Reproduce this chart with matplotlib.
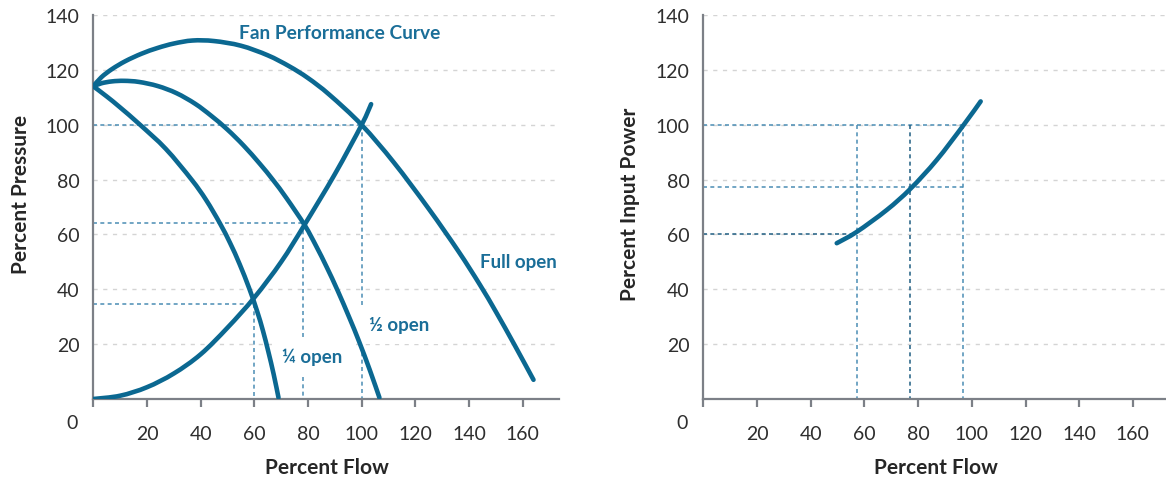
import matplotlib
matplotlib.use("Agg")
import matplotlib.pyplot as plt
import numpy as np
from matplotlib.path import Path
from matplotlib.patches import PathPatch

plt.rcParams['font.family'] = ['Lato', 'DejaVu Sans']

# ---- Fan pressure curves (percent flow vs percent pressure) ----
full_open_x = [0, 3, 7, 12, 18, 24, 30, 37, 45, 55, 65, 73, 80, 88, 100, 112, 125, 136, 144, 150, 157, 164]
full_open_y = [114, 117.3, 120.3, 123.2, 125.9, 128, 129.6, 130.7, 130.5, 128.8, 125.3, 121.3, 117, 110.9,
               99.9, 86.2, 69.3, 53.9, 41.7, 31.8, 19.6, 7.0]

half_open_x = [0, 3, 7, 11.5, 17, 24, 31, 38, 44, 50, 56, 62, 67, 72, 78.8, 83, 87, 91, 95.5, 99, 103, 106.6]
half_open_y = [114, 115.1, 115.8, 116, 115.6, 114.1, 111.5, 107.6, 103.2, 98.2, 92.4, 85.8, 79.8, 73.2,
               63.3, 55.8, 48, 39.6, 29.4, 21, 10.6, 0.5]

quarter_open_x = [0, 5, 10, 17.4, 27, 36.6, 42, 47.2, 51, 54.5, 58.1, 61, 63.2, 65.2, 67.2, 69]
quarter_open_y = [114, 110.3, 106.3, 100, 91.2, 80, 72.6, 64, 56.8, 49.2, 40.3, 32.1, 24.9, 17.3, 9, 0.5]

system_x = [0, 10, 20, 30, 40, 50, 60, 70, 78.5, 90, 100, 103.5]
system_y = [0, 1.2, 4.3, 9.3, 16.3, 26, 37, 50, 63.2, 82, 100, 107.5]

# operating points: (flow, pressure) for full, 1/2 and 1/4 open
op_flow = [100, 78, 60]
op_pressure = [100, 64, 34.5]

# ---- Input power curve ----
power_x = [49.7, 57.1, 68.3, 77.1, 86.9, 96.8, 103.3]
power_y = [56.8, 60.9, 68.9, 76.6, 87.1, 99.7, 108.5]
power_flow_marks = [57.1, 77.1, 96.8]
power_levels = [100, 77.3, 60]

y_ticks = [20, 40, 60, 80, 100, 120, 140]
x_ticks = [0, 20, 40, 60, 80, 100, 120, 140, 160]
x_ticklabels = ['', '20', '40', '60', '80', '100', '120', '140', '160']

CURVE = '#0b6891'
TEXT_BLUE = '#1a6e98'
REF = '#4a8db4'
REF_DARK = '#1f5e82'
GRID = '#d4d4d4'
SPINE = '#7c8087'
TICKTXT = '#2e2e2e'

W, H = 1166, 485
fig = plt.figure(figsize=(W / 100, H / 100), dpi=100)

ax1 = fig.add_axes([93.3 / W, 85 / H, (559 - 93.3) / W, 384 / H])
ax2 = fig.add_axes([703.3 / W, 85 / H, (W - 703.3) / W, 384 / H])


def style_axes(ax, xmax, ylabel):
    ax.set_xlim(0, xmax)
    ax.set_ylim(0, 140)
    for s in ('top', 'right'):
        ax.spines[s].set_visible(False)
    for s in ('left', 'bottom'):
        ax.spines[s].set_color(SPINE)
        ax.spines[s].set_linewidth(1.6)
    ax.set_yticks(y_ticks)
    ax.set_yticklabels([str(v) for v in y_ticks])
    ax.set_xticks(x_ticks)
    ax.set_xticklabels(x_ticklabels)
    ax.tick_params(axis='y', length=0, pad=10, labelsize=14, labelcolor=TICKTXT)
    ax.tick_params(axis='x', length=6, width=1.6, color=SPINE, direction='out',
                   pad=13, labelsize=14, labelcolor=TICKTXT)
    for v in y_ticks:
        ax.axhline(v, color=GRID, lw=1.0, ls=(0, (3, 4)), zorder=0)
    ax.text(-0.045, -0.06, '0', transform=ax.transAxes, fontsize=14,
            color=TICKTXT, ha='center', va='center')
    ax.set_xlabel('Percent Flow', fontsize=15, fontweight='bold', color='#262626')
    ax.xaxis.set_label_coords(0.502, -0.151)
    ax.set_ylabel(ylabel, fontsize=15, fontweight='bold', color='#262626')


def ref_line(ax, xs, ys, color=REF):
    ax.plot(xs, ys, color=color, lw=1.1, ls=(0, (2.6, 2.2)), zorder=1)


def curve(ax, xs, ys):
    # smooth cubic path (Catmull-Rom style) through the given points
    pts = np.column_stack([xs, ys]).astype(float)
    n = len(pts)
    verts = [pts[0]]
    codes = [Path.MOVETO]
    for i in range(n - 1):
        p0 = pts[i - 1] if i > 0 else pts[i]
        p1 = pts[i]
        p2 = pts[i + 1]
        p3 = pts[i + 2] if i + 2 < n else pts[i + 1]
        verts += [p1 + (p2 - p0) / 6.0, p2 - (p3 - p1) / 6.0, p2]
        codes += [Path.CURVE4] * 3
    patch = PathPatch(Path(verts, codes), fill=False, ec=CURVE, lw=3.3,
                      capstyle='round', joinstyle='round', zorder=4)
    ax.add_patch(patch)


# ---------------- left panel ----------------
style_axes(ax1, 173.5, 'Percent Pressure')
ax1.yaxis.set_label_coords(-0.134, 0.536)

for f, p in zip(op_flow, op_pressure):
    ref_line(ax1, [0, f], [p, p])
    ref_line(ax1, [f, f], [p, 0])

curve(ax1, full_open_x, full_open_y)
curve(ax1, half_open_x, half_open_y)
curve(ax1, quarter_open_x, quarter_open_y)
curve(ax1, system_x, system_y)

label_kw = dict(fontsize=13.5, fontweight='bold', color=TEXT_BLUE, va='center', zorder=3,
                bbox=dict(boxstyle='square,pad=0.55', fc='white', ec='none'))
ax1.text(91.9, 133.8, 'Fan Performance Curve', ha='center', fontsize=13.8,
         fontweight='bold', color=TEXT_BLUE, va='center', zorder=3)
ax1.text(144.2, 50, 'Full open', ha='left', **label_kw)
ax1.text(102.7, 27, '½ open', ha='left', **label_kw)
ax1.text(70.3, 15.7, '¼ open', ha='left', **label_kw)

# ---------------- right panel ----------------
style_axes(ax2, (W - 703.3) / 2.685, 'Percent Input Power')
ax2.yaxis.set_label_coords(-0.137, 0.51)

ref_line(ax2, [0, power_flow_marks[2]], [power_levels[0]] * 2)
ref_line(ax2, [0, power_flow_marks[2]], [power_levels[1]] * 2)
ref_line(ax2, [0, power_flow_marks[0]], [power_levels[2]] * 2, REF_DARK)
for i, f in enumerate(power_flow_marks):
    ref_line(ax2, [f, f], [power_levels[0], 0], REF_DARK if i == 1 else REF)

curve(ax2, power_x, power_y)

fig.savefig('out.png', dpi=100)
